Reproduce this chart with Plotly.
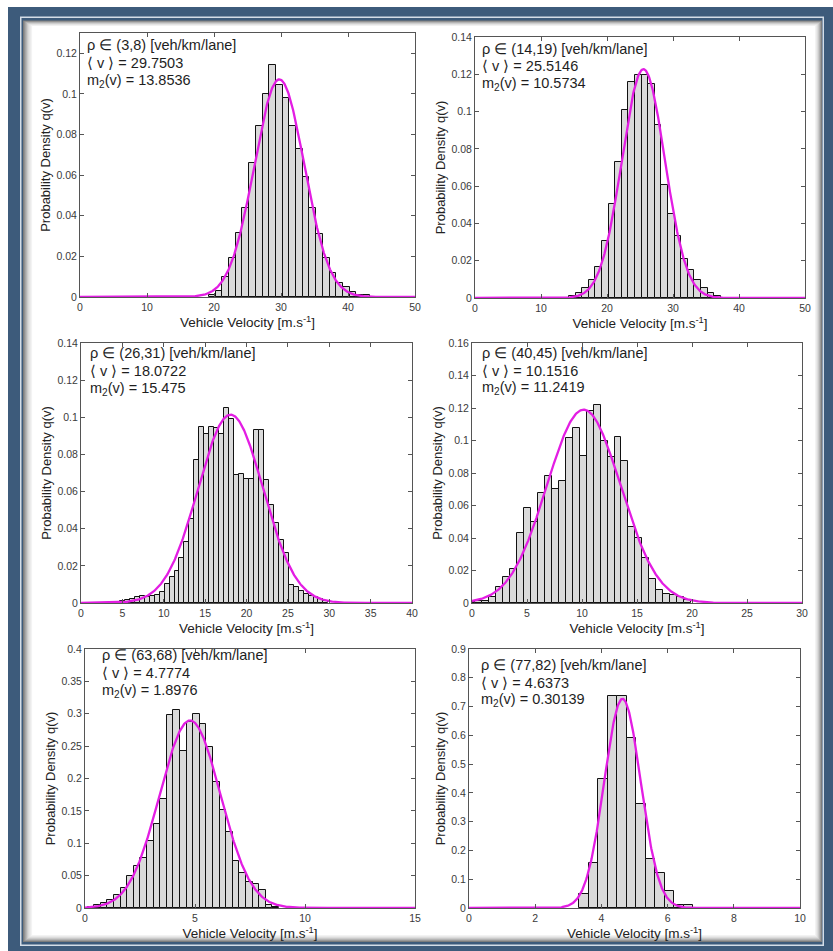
import numpy as np
import plotly.graph_objects as go

W, H = 833, 951

# ---------------- data ----------------
p1_centers = [19.75, 20.75, 21.75, 22.75, 23.75, 24.75, 25.75, 26.75, 27.75, 28.75, 29.75, 30.75,
              31.75, 32.75, 33.75, 34.75, 35.75, 36.75, 37.75, 38.75, 39.75, 40.75, 41.75, 42.75]
p1_heights = [0.001, 0.003, 0.010, 0.019, 0.0315, 0.044, 0.066, 0.084, 0.100, 0.114, 0.1045, 0.098,
              0.084, 0.073, 0.059, 0.044, 0.031, 0.019, 0.012, 0.007, 0.005, 0.0026, 0.0012, 0.0008]

p2_centers = [14.75, 15.75, 16.75, 17.75, 18.75, 19.75, 20.75, 21.75, 22.75, 23.75, 24.75, 25.75,
              26.75, 27.75, 28.75, 29.75, 30.75, 31.75, 32.75, 33.75, 34.75, 35.75, 36.75]
p2_heights = [0.001, 0.0025, 0.0055, 0.0097, 0.0168, 0.0306, 0.0503, 0.0731, 0.1009, 0.116, 0.1195, 0.1197,
              0.115, 0.093, 0.0605, 0.045, 0.033, 0.021, 0.015, 0.0097, 0.0055, 0.0025, 0.001]

p3_centers = [5.0, 5.6, 6.2, 6.8, 7.4, 8.0, 8.6, 9.2, 9.8, 10.4, 11.0, 11.6, 12.2, 12.8, 13.4, 14.0,
              14.6, 15.2, 15.8, 16.4, 17.0, 17.6, 18.2, 18.8, 19.4, 20.0, 20.6, 21.2, 21.8, 22.4, 23.0,
              23.6, 24.2, 24.8, 25.4, 26.0, 26.6, 27.2, 27.8, 28.4, 29.0, 29.6]
p3_heights = [0.001, 0.0015, 0.002, 0.0035, 0.0038, 0.003, 0.0038, 0.0042, 0.006, 0.010, 0.014, 0.0175,
              0.0245, 0.033, 0.045, 0.077, 0.095, 0.091, 0.095, 0.094, 0.091, 0.105, 0.099, 0.069,
              0.0695, 0.067, 0.067, 0.093, 0.093, 0.066, 0.053, 0.043, 0.034, 0.027, 0.0095, 0.0085,
              0.0065, 0.005, 0.004, 0.003, 0.002, 0.001]

p4_centers = [0.0, 0.632, 1.264, 1.896, 2.528, 3.16, 3.792, 4.424, 5.056, 5.688, 6.32, 6.952, 7.584,
              8.216, 8.848, 9.48, 10.112, 10.744, 11.376, 12.008, 12.64, 13.272, 13.904, 14.536,
              15.168, 15.8, 16.432, 17.064, 17.696, 18.328, 18.96, 19.592]
p4_heights = [0.0005, 0.001, 0.0015, 0.004, 0.010, 0.016, 0.021, 0.0429, 0.0587, 0.050, 0.0679, 0.0782,
              0.070, 0.0751, 0.1017, 0.1075, 0.0905, 0.1182, 0.1218, 0.0999, 0.090, 0.1023, 0.0874,
              0.047, 0.0398, 0.0275, 0.0146, 0.008, 0.0055, 0.005, 0.004, 0.002]

p5_centers = [0.27, 0.57, 0.87, 1.17, 1.47, 1.77, 2.07, 2.37, 2.67, 2.97, 3.27, 3.57, 3.87, 4.17, 4.47,
              4.77, 5.07, 5.37, 5.67, 5.97, 6.27, 6.57, 6.87, 7.17, 7.47, 7.77, 8.07, 8.37, 8.67]
p5_heights = [0.002, 0.004, 0.007, 0.012, 0.020, 0.0314, 0.050, 0.065, 0.078, 0.104, 0.130, 0.168, 0.298,
              0.306, 0.243, 0.287, 0.299, 0.284, 0.249, 0.194, 0.152, 0.117, 0.0726, 0.0546, 0.0396,
              0.0366, 0.0278, 0.005, 0.002]

p6_centers = [3.47, 3.758, 4.046, 4.334, 4.622, 4.91, 5.198, 5.486, 5.774, 6.062, 6.35, 6.638]
p6_heights = [0.0475, 0.157, 0.447, 0.738, 0.738, 0.592, 0.361, 0.169, 0.120, 0.060, 0.010, 0.010]

bin_widths = [1.0, 1.0, 0.6, 0.632, 0.3, 0.288]

density_bins = ["(3,8)", "(14,19)", "(26,31)", "(40,45)", "(63,68)", "(77,82)"]
means = [29.7503, 25.5146, 18.0722, 10.1516, 4.7774, 4.6373]
variances = [13.8536, 10.5734, 15.475, 11.2419, 1.8976, 0.30139]
mean_labels = ["29.7503", "25.5146", "18.0722", "10.1516", "4.7774", "4.6373"]
var_labels = ["13.8536", "10.5734", "15.475", "11.2419", "1.8976", "0.30139"]

x_ranges = [[0, 50], [0, 50], [0, 40], [0, 30], [0, 15], [0, 10]]
x_ticks = [[0, 10, 20, 30, 40, 50], [0, 10, 20, 30, 40, 50], [0, 5, 10, 15, 20, 25, 30, 35, 40],
           [0, 5, 10, 15, 20, 25, 30], [0, 5, 10, 15], [0, 2, 4, 6, 8, 10]]
x_tick_labels = [["0", "10", "20", "30", "40", "50"], ["0", "10", "20", "30", "40", "50"],
                 ["0", "5", "10", "15", "20", "25", "30", "35", "40"],
                 ["0", "5", "10", "15", "20", "25", "30"], ["0", "5", "10", "15"],
                 ["0", "2", "4", "6", "8", "10"]]
y_ranges = [[0, 0.13], [0, 0.14], [0, 0.14], [0, 0.16], [0, 0.4], [0, 0.9]]
y_ticks = [[0, 0.02, 0.04, 0.06, 0.08, 0.1, 0.12],
           [0, 0.02, 0.04, 0.06, 0.08, 0.1, 0.12, 0.14],
           [0, 0.02, 0.04, 0.06, 0.08, 0.1, 0.12, 0.14],
           [0, 0.02, 0.04, 0.06, 0.08, 0.1, 0.12, 0.14, 0.16],
           [0, 0.05, 0.1, 0.15, 0.2, 0.25, 0.3, 0.35, 0.4],
           [0, 0.1, 0.2, 0.3, 0.4, 0.5, 0.6, 0.7, 0.8, 0.9]]
y_tick_labels = [["0", "0.02", "0.04", "0.06", "0.08", "0.1", "0.12"],
                 ["0", "0.02", "0.04", "0.06", "0.08", "0.1", "0.12", "0.14"],
                 ["0", "0.02", "0.04", "0.06", "0.08", "0.1", "0.12", "0.14"],
                 ["0", "0.02", "0.04", "0.06", "0.08", "0.1", "0.12", "0.14", "0.16"],
                 ["0", "0.05", "0.1", "0.15", "0.2", "0.25", "0.3", "0.35", "0.4"],
                 ["0", "0.1", "0.2", "0.3", "0.4", "0.5", "0.6", "0.7", "0.8", "0.9"]]

x_title = "Vehicle Velocity [m.s<sup>-1</sup>]"
y_title = "Probability Density q(v)"

all_centers = [p1_centers, p2_centers, p3_centers, p4_centers, p5_centers, p6_centers]
all_heights = [p1_heights, p2_heights, p3_heights, p4_heights, p5_heights, p6_heights]

# ---------------- layout geometry (pixels) ----------------
axes_px = [  # x0, x1, y0(top), y1(bottom)
    (80, 415, 33, 297),
    (475, 805, 37, 298),
    (81, 412, 343, 603),
    (472, 802, 343, 603),
    (85, 415, 649, 908),
    (469, 800, 649, 908),
]
ann_dx = [5, 5, 7, 8, 15, 10]
ann_dy = [[12, 30, 48], [12, 29.5, 47], [10, 28, 46], [10, 27.5, 45], [6, 24, 42], [16, 33.5, 51]]

FONT = "Arial, 'Liberation Sans', Helvetica, sans-serif"
MAGENTA = "#e31de3"
FRAME = "#3d5b7b"


def px(x):
    return x / W


def py(y):
    return 1 - y / H


fig = go.Figure()
layout = {}
annotations = []

for i in range(6):
    n = i + 1
    xa = "x" if n == 1 else f"x{n}"
    ya = "y" if n == 1 else f"y{n}"
    x0, x1, y0, y1 = axes_px[i]

    fig.add_trace(go.Bar(
        x=all_centers[i], y=all_heights[i], width=bin_widths[i],
        marker=dict(color="#dadada", line=dict(color="#111111", width=1)),
        xaxis=xa, yaxis=ya, showlegend=False, hoverinfo="skip"))

    xs = np.linspace(x_ranges[i][0], x_ranges[i][1], 600)
    pdf = np.exp(-(xs - means[i]) ** 2 / (2 * variances[i])) / np.sqrt(2 * np.pi * variances[i])
    fig.add_trace(go.Scatter(
        x=xs, y=pdf, mode="lines", line=dict(color=MAGENTA, width=2.3),
        xaxis=xa, yaxis=ya, showlegend=False, hoverinfo="skip", cliponaxis=True))

    common = dict(showline=True, linecolor="#555555", linewidth=1, mirror="ticks",
                  ticks="inside", ticklen=4, tickcolor="#555555", tickwidth=1,
                  showgrid=False, zeroline=False, automargin=False,
                  tickfont=dict(family=FONT, size=10.5, color="#3a3a3a"))
    layout["xaxis" if n == 1 else f"xaxis{n}"] = dict(
        common, domain=[px(x0), px(x1)], anchor=ya, range=x_ranges[i],
        tickvals=x_ticks[i], ticktext=x_tick_labels[i],
        title=dict(text=x_title, font=dict(family=FONT, size=13.5, color="#222222"), standoff=2))
    layout["yaxis" if n == 1 else f"yaxis{n}"] = dict(
        common, domain=[py(y1), py(y0)], anchor=xa, range=y_ranges[i],
        tickvals=y_ticks[i], ticktext=y_tick_labels[i],
        title=dict(text=y_title, font=dict(family=FONT, size=13, color="#222222"), standoff=2))

    lines = [f"\u03c1 \u2208 {density_bins[i]} [veh/km/lane]",
             f"\u27e8 v \u27e9 = {mean_labels[i]}",
             f"m<sub>2</sub>(v) = {var_labels[i]}"]
    for k, t in enumerate(lines):
        annotations.append(dict(
            text=t, xref=f"{xa} domain", yref=f"{ya} domain", x=0, y=1,
            xanchor="left", yanchor="middle", xshift=ann_dx[i], yshift=-ann_dy[i][k],
            showarrow=False, align="left",
            font=dict(family=FONT, size=14.5, color="#1e1e1e")))

# ---------------- frame shapes ----------------
shapes = []


def rect(x0, y0, x1, y1, fill, line_color=None, line_width=0):
    return dict(type="rect", xref="paper", yref="paper",
                x0=px(x0), x1=px(x1), y0=py(y1), y1=py(y0),
                fillcolor=fill, line=dict(color=line_color or fill, width=line_width),
                layer="below")


shapes.append(rect(8, 7, 833, 951, FRAME))
shapes.append(rect(20, 16.5, 824, 946, "#d4dde7"))
shapes.append(rect(21.5, 18, 822.5, 944.5, FRAME))
shade = ["#7d7d7d", "#9a9a9a", "#b4b4b4", "#cacaca", "#dcdcdc", "#e9e9e9", "#f3f3f3", "#ffffff"]
for k, c in enumerate(shade):
    shapes.append(rect(23 + 1.3 * k, 20.5 + 0.8 * k, 822 - 1.0 * k, 942 - 1.0 * k, c))

fig.update_layout(
    **layout,
    annotations=annotations,
    shapes=shapes,
    width=W, height=H,
    margin=dict(l=0, r=0, t=0, b=0, pad=0),
    paper_bgcolor="white",
    plot_bgcolor="white",
    barmode="overlay",
    bargap=0,
    showlegend=False,
    font=dict(family=FONT),
)

fig.write_html("out.html", include_plotlyjs=True, full_html=True,
               config={"displayModeBar": False},
               post_script="document.body.style.margin='0';document.body.style.overflow='hidden';")
